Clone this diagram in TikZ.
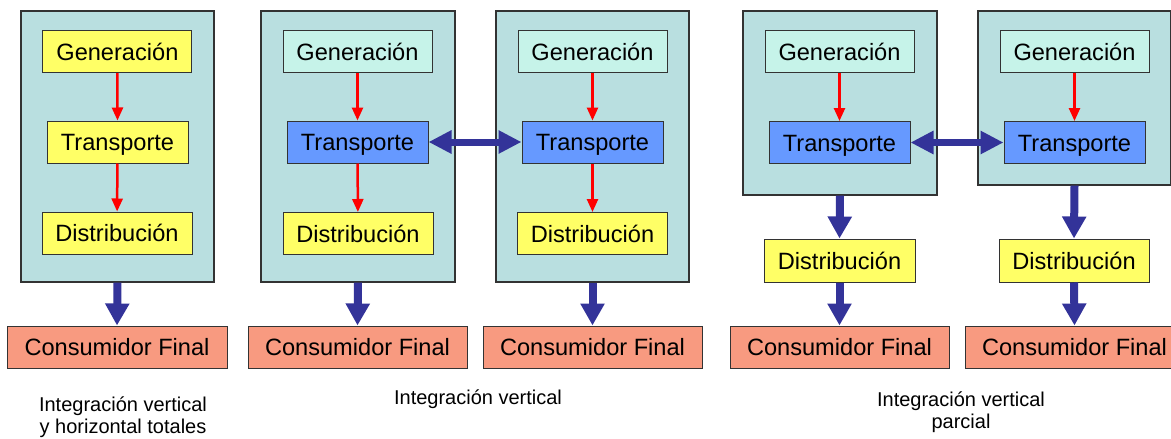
\documentclass[tikz,border=0pt]{standalone}
\usepackage{fontspec}
\setmainfont{Liberation Sans}
\usetikzlibrary{arrows.meta}
\definecolor{outerfill}{HTML}{B9DFE0}
\definecolor{yel}{HTML}{FFFF66}
\definecolor{mint}{HTML}{C6F3E9}
\definecolor{blu}{HTML}{6699FF}
\definecolor{salmon}{HTML}{F89A80}
\definecolor{navy}{HTML}{333399}
\definecolor{edge}{HTML}{333333}
\tikzset{
  outer/.style={draw=edge, line width=1.3pt, fill=outerfill, inner sep=0pt},
  inbox/.style={draw=edge, line width=1pt, inner sep=0pt, minimum height=42pt,
    text height=17pt, text depth=0pt,
    font=\fontsize{23.6}{27}\selectfont},
  gen/.style={inbox, fill=mint, minimum width=149pt},
  genY/.style={inbox, fill=yel, minimum width=149pt},
  trans/.style={inbox, fill=blu, minimum width=141pt},
  transY/.style={inbox, fill=yel, minimum width=141pt},
  dist/.style={inbox, fill=yel, minimum width=150pt},
  cons/.style={inbox, fill=salmon, minimum width=219pt},
  flow/.style={draw=red, line width=2.5pt, -{Triangle[width=11pt,length=13pt]}},
  bigflow/.style={draw=navy, line width=8pt, -{Triangle[width=23pt,length=22pt]}},
  link/.style={draw=navy, line width=7pt, {Triangle[width=22pt,length=23pt]}-{Triangle[width=22pt,length=23pt]}},
  caption/.style={align=center, font=\fontsize{20}{22}\selectfont}
}
\begin{document}
\begin{tikzpicture}[x=1pt,y=-1pt]
\useasboundingbox (0,0) rectangle (1171,439);
\clip (0,0) rectangle (1171,439);
% Panel A
\node[outer, minimum width=193pt, minimum height=271pt] (oA) at (117.5,146.5) {};
\node[genY] (gA) at (117.4,51.5) {Generación};
\node[transY] (tA) at (117.5,142) {Transporte};
\node[dist] (dA) at (117,233) {Distribución};
\node[cons, minimum width=220pt] (cA) at (117,347) {Consumidor Final};
\draw[flow] (gA) -- (tA);
\draw[flow] (tA) -- (dA);
\draw[bigflow] (oA.south) -- (cA.north);
\node[caption] (capA) at (123,417) {Integración vertical\\y horizontal totales};
% Panel B
\node[outer, minimum width=194pt, minimum height=271pt] (oB) at (358,146.5) {};
\node[gen] (gB) at (357.5,51.5) {Generación};
\node[trans] (tB) at (357.5,142) {Transporte};
\node[dist] (dB) at (358,233.5) {Distribución};
\node[cons] (cB) at (357.5,347) {Consumidor Final};
\draw[flow] (gB) -- (tB);
\draw[flow] (tB) -- (dB);
\draw[bigflow] (oB.south) -- (cB.north);
% Panel C
\node[outer, minimum width=193pt, minimum height=271pt] (oC) at (592.5,146.5) {};
\node[gen] (gC) at (592.5,51.5) {Generación};
\node[trans] (tC) at (592.5,142) {Transporte};
\node[dist] (dC) at (592.5,233.5) {Distribución};
\node[cons] (cC) at (592.5,347) {Consumidor Final};
\draw[flow] (gC) -- (tC);
\draw[flow] (tC) -- (dC);
\draw[bigflow] (oC.south) -- (cC.north);
\draw[link] (tB.east) -- (tC.west);
\node[caption] (capB) at (478,399) {Integración vertical};
% Panel D
\node[outer, minimum width=194pt, minimum height=184pt] (oD) at (840,103) {};
\node[gen] (gD) at (839.5,51.5) {Generación};
\node[trans] (tD) at (839.5,142.5) {Transporte};
\node[dist, minimum width=151pt, minimum height=43pt] (dD) at (839.5,260.5) {Distribución};
\node[cons] (cD) at (839.5,347) {Consumidor Final};
\draw[flow] (gD) -- (tD);
\draw[bigflow] (oD.south) -- (dD.north);
\draw[bigflow] (dD.south) -- (cD.north);
% Panel E
\node[outer, minimum width=193pt, minimum height=174pt] (oE) at (1074.5,98) {};
\node[gen] (gE) at (1074.5,51.5) {Generación};
\node[trans] (tE) at (1074.5,142.5) {Transporte};
\node[dist, minimum height=43pt] (dE) at (1074,260.5) {Distribución};
\node[cons] (cE) at (1074.5,347) {Consumidor Final};
\draw[flow] (gE) -- (tE);
\draw[bigflow] (oE.south) -- (dE.north);
\draw[bigflow] (dE.south) -- (cE.north);
\draw[link] (tD.east) -- (tE.west);
\node[caption] (capD) at (961,412) {Integración vertical\\parcial};
\end{tikzpicture}
\end{document}
